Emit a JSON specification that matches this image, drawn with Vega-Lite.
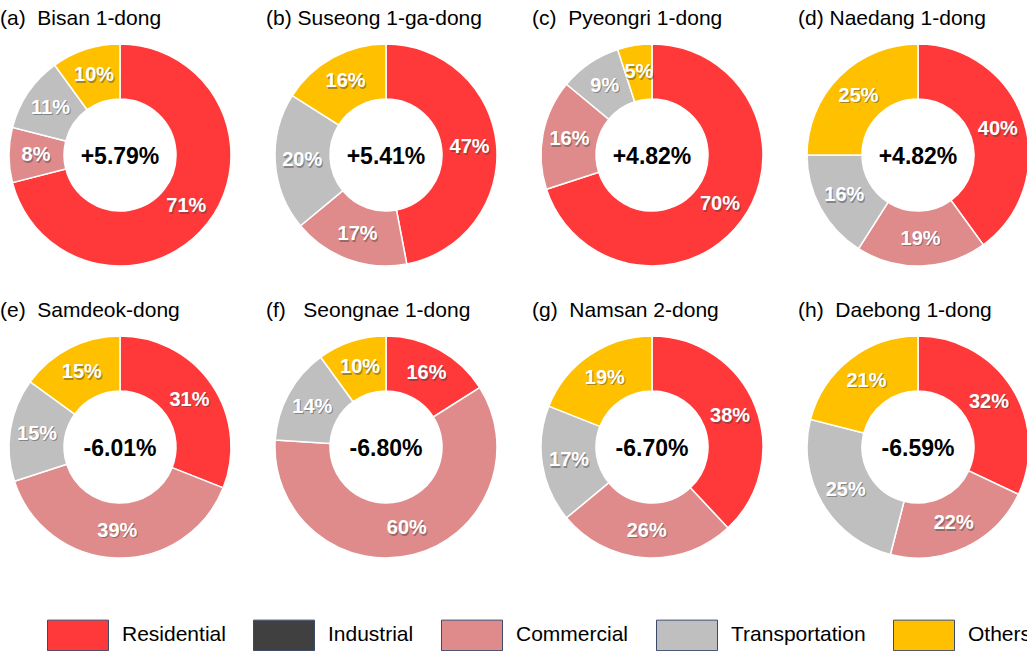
{
  "$schema": "https://vega.github.io/schema/vega-lite/v6.json",
  "padding": {"left": 0, "top": 8, "right": 0, "bottom": 0},
  "background": "white",
  "config": {"view": {"stroke": null}, "font": "Liberation Sans"},
  "data": {"values": [
    {"panel": "(a)\u00a0 Bisan 1-dong", "cat": "Residential", "ord": 1, "share": 0.71, "change": "+5.79%"},
    {"panel": "(a)\u00a0 Bisan 1-dong", "cat": "Commercial", "ord": 3, "share": 0.08, "change": "+5.79%"},
    {"panel": "(a)\u00a0 Bisan 1-dong", "cat": "Transportation", "ord": 4, "share": 0.11, "change": "+5.79%"},
    {"panel": "(a)\u00a0 Bisan 1-dong", "cat": "Others", "ord": 5, "share": 0.10, "change": "+5.79%"},
    {"panel": "(b) Suseong 1-ga-dong", "cat": "Residential", "ord": 1, "share": 0.47, "change": "+5.41%"},
    {"panel": "(b) Suseong 1-ga-dong", "cat": "Commercial", "ord": 3, "share": 0.17, "change": "+5.41%"},
    {"panel": "(b) Suseong 1-ga-dong", "cat": "Transportation", "ord": 4, "share": 0.20, "change": "+5.41%"},
    {"panel": "(b) Suseong 1-ga-dong", "cat": "Others", "ord": 5, "share": 0.16, "change": "+5.41%"},
    {"panel": "(c)\u00a0 Pyeongri 1-dong", "cat": "Residential", "ord": 1, "share": 0.70, "change": "+4.82%"},
    {"panel": "(c)\u00a0 Pyeongri 1-dong", "cat": "Commercial", "ord": 3, "share": 0.16, "change": "+4.82%"},
    {"panel": "(c)\u00a0 Pyeongri 1-dong", "cat": "Transportation", "ord": 4, "share": 0.09, "change": "+4.82%"},
    {"panel": "(c)\u00a0 Pyeongri 1-dong", "cat": "Others", "ord": 5, "share": 0.05, "change": "+4.82%"},
    {"panel": "(d) Naedang 1-dong", "cat": "Residential", "ord": 1, "share": 0.40, "change": "+4.82%"},
    {"panel": "(d) Naedang 1-dong", "cat": "Commercial", "ord": 3, "share": 0.19, "change": "+4.82%"},
    {"panel": "(d) Naedang 1-dong", "cat": "Transportation", "ord": 4, "share": 0.16, "change": "+4.82%"},
    {"panel": "(d) Naedang 1-dong", "cat": "Others", "ord": 5, "share": 0.25, "change": "+4.82%"},
    {"panel": "(e)\u00a0 Samdeok-dong", "cat": "Residential", "ord": 1, "share": 0.31, "change": "-6.01%"},
    {"panel": "(e)\u00a0 Samdeok-dong", "cat": "Commercial", "ord": 3, "share": 0.39, "change": "-6.01%"},
    {"panel": "(e)\u00a0 Samdeok-dong", "cat": "Transportation", "ord": 4, "share": 0.15, "change": "-6.01%"},
    {"panel": "(e)\u00a0 Samdeok-dong", "cat": "Others", "ord": 5, "share": 0.15, "change": "-6.01%"},
    {"panel": "(f)\u00a0\u00a0 Seongnae 1-dong", "cat": "Residential", "ord": 1, "share": 0.16, "change": "-6.80%"},
    {"panel": "(f)\u00a0\u00a0 Seongnae 1-dong", "cat": "Commercial", "ord": 3, "share": 0.60, "change": "-6.80%"},
    {"panel": "(f)\u00a0\u00a0 Seongnae 1-dong", "cat": "Transportation", "ord": 4, "share": 0.14, "change": "-6.80%"},
    {"panel": "(f)\u00a0\u00a0 Seongnae 1-dong", "cat": "Others", "ord": 5, "share": 0.10, "change": "-6.80%"},
    {"panel": "(g)\u00a0 Namsan 2-dong", "cat": "Residential", "ord": 1, "share": 0.38, "change": "-6.70%"},
    {"panel": "(g)\u00a0 Namsan 2-dong", "cat": "Commercial", "ord": 3, "share": 0.26, "change": "-6.70%"},
    {"panel": "(g)\u00a0 Namsan 2-dong", "cat": "Transportation", "ord": 4, "share": 0.17, "change": "-6.70%"},
    {"panel": "(g)\u00a0 Namsan 2-dong", "cat": "Others", "ord": 5, "share": 0.19, "change": "-6.70%"},
    {"panel": "(h)\u00a0 Daebong 1-dong", "cat": "Residential", "ord": 1, "share": 0.32, "change": "-6.59%"},
    {"panel": "(h)\u00a0 Daebong 1-dong", "cat": "Commercial", "ord": 3, "share": 0.22, "change": "-6.59%"},
    {"panel": "(h)\u00a0 Daebong 1-dong", "cat": "Transportation", "ord": 4, "share": 0.25, "change": "-6.59%"},
    {"panel": "(h)\u00a0 Daebong 1-dong", "cat": "Others", "ord": 5, "share": 0.21, "change": "-6.59%"}
  ]},
  "facet": {
    "field": "panel", "type": "nominal",
    "header": {"title": null, "labelFont": "Liberation Sans", "labelFontSize": 21, "labelColor": "black", "labelAnchor": "start", "labelAlign": "left", "labelPadding": 11}
  },
  "columns": 4,
  "spacing": {"column": 26, "row": 30},
  "spec": {
    "width": 240,
    "height": 230,
    "layer": [
      {
        "mark": {"type": "arc", "innerRadius": 56, "outerRadius": 111, "stroke": "white", "strokeWidth": 1.5},
        "encoding": {
          "theta": {"field": "share", "type": "quantitative", "stack": true, "scale": {"domain": [0, 1]}},
          "order": {"field": "ord", "type": "quantitative"},
          "color": {
            "field": "cat", "type": "nominal",
            "scale": {"domain": ["Residential", "Industrial", "Commercial", "Transportation", "Others"], "range": ["#FF393A", "#404040", "#E08B8B", "#BFBFBF", "#FFC000"]},
            "legend": {
              "title": null, "orient": "bottom", "offset": -5, "padding": 47, "direction": "horizontal", "columns": 5,
              "symbolType": "M-1,-0.5H1V0.5H-1Z", "symbolSize": 3721, "symbolStrokeColor": "#3B4A6B", "symbolStrokeWidth": 1, "symbolOpacity": 1,
              "labelFont": "Liberation Sans", "labelFontSize": 21, "labelColor": "black", "labelOffset": 13, "columnPadding": 25, "labelLimit": 300
            }
          }
        }
      },
      {
        "mark": {"type": "text", "radius": 84, "font": "Liberation Sans", "fontSize": 20, "fontWeight": "bold", "dx": 1, "dy": 1.5, "opacity": 0.45},
        "encoding": {
          "theta": {"field": "share", "type": "quantitative", "stack": true, "scale": {"domain": [0, 1]}},
          "order": {"field": "ord", "type": "quantitative"},
          "detail": {"field": "cat", "type": "nominal"},
          "color": {"value": "#404040"},
          "text": {"field": "share", "type": "quantitative", "format": ".0%"}
        }
      },
      {
        "mark": {"type": "text", "radius": 84, "font": "Liberation Sans", "fontSize": 20, "fontWeight": "bold"},
        "encoding": {
          "theta": {"field": "share", "type": "quantitative", "stack": true, "scale": {"domain": [0, 1]}},
          "order": {"field": "ord", "type": "quantitative"},
          "detail": {"field": "cat", "type": "nominal"},
          "color": {"value": "white"},
          "text": {"field": "share", "type": "quantitative", "format": ".0%"}
        }
      },
      {
        "transform": [{"filter": "datum.ord == 1"}],
        "mark": {"type": "text", "font": "Liberation Sans", "fontSize": 23, "fontWeight": "bold", "dy": 2},
        "encoding": {
          "color": {"value": "black"},
          "text": {"field": "change", "type": "nominal"}
        }
      }
    ]
  }
}
